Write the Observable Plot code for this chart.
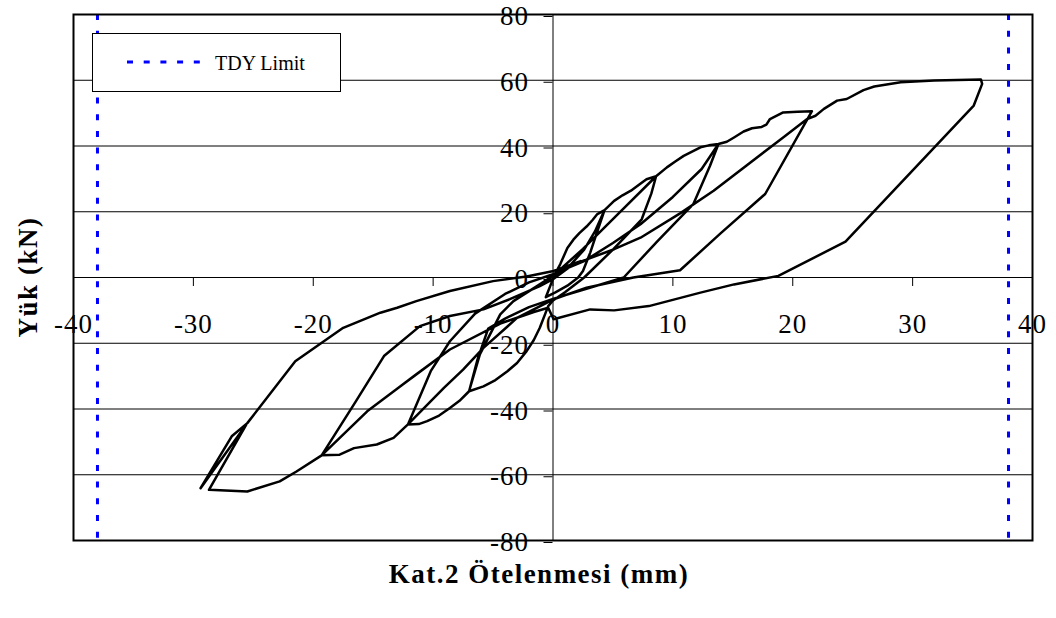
<!DOCTYPE html>
<html><head><meta charset="utf-8">
<script src="https://cdn.jsdelivr.net/npm/d3@7"></script>
<script src="https://cdn.jsdelivr.net/npm/@observablehq/plot@0.6"></script>
<style>
html,body{margin:0;padding:0;background:#fff;}
#chart{width:1056px;height:618px;}
#chart svg text{font-family:"Liberation Serif","Times New Roman",serif !important;}
g[aria-label="x-axis tick label"] text, g[aria-label="y-axis tick label"] text{letter-spacing:1px;}
</style>
</head><body><div id="chart"></div>
<script>
// Hysteresis path: drift (mm) and load (kN), in loading order
const drift = [
  0,0.6,1.2,1.7,2.2,2.8,3.3,3.7,4.3,
  3.6,3.1,2.5,2.1,1.2,0.2,-0.6,
  0.1,1.5,2.6,3.5,4.3,
  5.1,5.8,6.5,7.2,7.8,8.6,
  8.2,7.4,5,2.6,1,0,-0.4,
  -1.1,-1.6,-2.2,-3,-3.8,-4.8,-5.8,-7,
  -6.1,-4.4,-3.3,-1.5,0,
  2.5,5.5,8.6,
  9.5,10.2,10.9,11.6,12.3,13,13.8,
  13.1,11.7,8.7,5.9,3,0,
  -2,-4,-5.4,-6.3,-7,
  -7.8,-8.6,-9.5,-10.5,-11.2,-12.1,
  -10.2,-8.6,-6.5,-4,-2,0,
  2.6,5,7.3,10,12.4,13.8,
  14.5,15.1,15.9,16.6,17.4,17.8,18.1,19.2,20.4,21.6,
  17.7,14,10.6,6.7,2.8,0,
  -3,-5.8,-7.5,-9.1,-12.1,
  -13.3,-14.7,-16.6,-17.8,-19.3,
  -16.5,-14.1,-11.1,-8.6,-5.8,-3.6,-1.1,0,
  1.7,5.1,7.3,10.6,13.4,19.2,21.2,21.9,
  22.6,23.7,24.5,25.9,26.8,29,31.8,35.7,
  35.8,35.1,24.4,18.8,15.1,12.3,8,5.1,3.1,0.05,
  -0.4,-1.6,-4.4,-8.6,-11.6,-12.7,-15.5,-19.3,
  -21.4,-22.8,-25.5,-28.7,-25.6,-29.4,
  -26.8,-25.5,-21.5,-17.5,-14.4,-13,-11.4,-8.6,-5,-2.2,0.05,2.3
];
const load = [
  0,4,9,11.5,13.5,15.5,17.5,19.3,20.5,
  13,7.5,2,0,-2.5,-4.5,-6,
  0.5,4,8.5,14,20.5,
  23.3,25,26.4,28.3,29.9,30.8,
  25.5,17.7,8.5,0,-4.5,-7,-8.7,
  -15.3,-19,-22.4,-26,-28.5,-31.2,-33.1,-34.6,
  -23.4,-11.2,-7.2,-3,0.5,
  8.7,19.6,30.8,
  33.5,35.3,37,38.3,39.6,40.2,40.6,
  34,22.3,11,0,-3.2,-6.5,
  -9,-12.5,-15.5,-25,-34.6,
  -37.5,-39.7,-42,-43.7,-44.6,-44.7,
  -28.5,-19.4,-11,-5,-1.5,1,
  5,10.5,16.2,24.5,33,40.6,
  41.3,42.6,44.4,45.4,45.8,46.5,48.2,50.2,50.4,50.6,
  25.4,13.5,2.2,0,-3.1,-6.7,
  -12.3,-21.4,-28,-33.6,-44.7,
  -48.8,-50.8,-51.9,-53.9,-54.1,
  -38,-23.9,-14.8,-11.7,-9.7,-6.6,-2.6,-0.5,
  4,8.6,12.1,19.5,26.4,42.6,48.2,49.2,
  51.3,53.8,54.3,57,58.1,59.4,59.9,60.2,
  58.9,52.3,10.9,0.5,-2.1,-4.6,-8.7,-10,-9.7,-12.7,
  -9.2,-10.5,-14,-21.9,-30,-33,-40.7,-54.1,
  -59,-62,-65.1,-64.6,-44.8,-64.1,
  -48.3,-44.3,-25.5,-15.3,-10.7,-9.2,-7.2,-4.1,-1.1,0.3,2,5
];
const xTicks = [-40,-30,-20,-10,0,10,20,30,40];
const yTicks = [-80,-60,-40,-20,0,20,40,60,80];
const gridY = [-60,-40,-20,20,40,60];
const tdyLimits = [-38, 38];
const legendLabel = "TDY Limit";
const xTitle = "Kat.2 Ötelenmesi (mm)";
const yTitle = "Yük (kN)";

const W = 1056, H = 618, mL = 73, mR = 24, mT = 14, mB = 78;
const innerW = W - mL - mR, innerH = H - mT - mB;
const serif = "Liberation Serif";

const chart = Plot.plot({
  width: W, height: H,
  marginLeft: mL, marginRight: mR, marginTop: mT, marginBottom: mB,
  style: {fontFamily: serif, fontSize: "27px", color: "#000", background: "#fff", overflow: "visible"},
  x: {domain: [-40, 40], label: null},
  y: {domain: [-80, 80], label: null},
  marks: [
    Plot.ruleY(gridY, {stroke: "#000", strokeWidth: 1}),
    Plot.ruleY([0], {stroke: "#000", strokeWidth: 1}),
    Plot.ruleX([0], {stroke: "#000", strokeWidth: 1}),
    Plot.axisX({ticks: xTicks, anchor: "bottom", dy: -innerH / 2, tickSize: 9, tickPadding: 27, fontSize: 27, label: null, tickFormat: d => String(d)}),
    Plot.axisY({ticks: yTicks, anchor: "left", dx: innerW / 2, tickSize: 9, tickPadding: 15, fontSize: 27, label: null, dy: 2, tickFormat: d => String(d)}),
    Plot.ruleX(tdyLimits, {stroke: "#0000ff", strokeWidth: 3, strokeDasharray: "6,10.7"}),
    Plot.line(drift, {x: drift, y: load, stroke: "#000", strokeWidth: 2.5}),
    Plot.frame({stroke: "#000", strokeWidth: 2})
  ]
});
document.getElementById("chart").appendChild(chart);

// Legend and axis titles
const svg = d3.select(chart);
const lg = svg.append("g");
lg.append("rect").attr("x", 92.5).attr("y", 33.5).attr("width", 248).attr("height", 58)
  .attr("fill", "#fff").attr("stroke", "#000").attr("stroke-width", 1);
lg.append("line").attr("x1", 127).attr("x2", 202).attr("y1", 62).attr("y2", 62)
  .attr("stroke", "#0000ff").attr("stroke-width", 3).attr("stroke-dasharray", "6,10.7");
lg.append("text").attr("x", 215).attr("y", 69.5).attr("text-anchor", "start")
  .attr("font-size", 20).attr("fill", "#000").text(legendLabel);

svg.append("text").attr("x", 539).attr("y", 583).attr("text-anchor", "middle")
  .attr("font-size", 27).attr("font-weight", "bold")
  .attr("letter-spacing", "1.5px").attr("fill", "#000").text(xTitle);
svg.append("text").attr("transform", "translate(36.5,277) rotate(-90)").attr("text-anchor", "middle")
  .attr("font-size", 27).attr("font-weight", "bold")
  .attr("letter-spacing", "1.5px").attr("fill", "#000").text(yTitle);
</script>
</body></html>
